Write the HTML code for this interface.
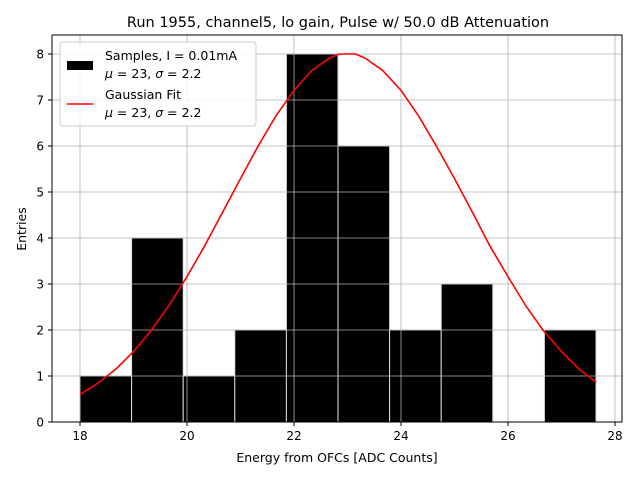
<!DOCTYPE html>
<html><head><meta charset="utf-8"><style>
body{margin:0;background:#fff;}
svg text{font-family:"DejaVu Sans","Liberation Sans",sans-serif;fill:#000;}
</style></head><body>
<svg id="chart" width="640" height="480">
<rect width="640" height="480" fill="#fff"/>
<text x="338" y="27" font-size="14.5" text-anchor="middle">Run 1955, channel5, lo gain, Pulse w/ 50.0 dB Attenuation</text>
<g id="bars"></g><g id="grid"></g><g id="fit"></g><g id="axes"></g>
<text x="337" y="462" font-size="12.5" text-anchor="middle">Energy from OFCs [ADC Counts]</text>
<text x="26" y="229" font-size="12.5" text-anchor="middle" transform="rotate(-90 26 229)">Entries</text>
<g>
<rect x="60" y="42" width="196" height="84" rx="3" fill="#fff" fill-opacity="0.85" stroke="#ccc"/>
<rect x="67" y="61" width="26" height="9" fill="#000"/>
<text x="105" y="60" font-size="12.5">Samples, I = 0.01mA</text>
<text x="105" y="78" font-size="12.5"><tspan font-style="italic">μ</tspan> = 23, <tspan font-style="italic">σ</tspan> = 2.2</text>
<line x1="67" y1="104" x2="93" y2="104" stroke="red" stroke-width="1.6"/>
<text x="105" y="99" font-size="12.5">Gaussian Fit</text>
<text x="105" y="117" font-size="12.5"><tspan font-style="italic">μ</tspan> = 23, <tspan font-style="italic">σ</tspan> = 2.2</text>
</g>
</svg>
<script>
const binStart = 18.0;
const binWidth = 0.9645;
const counts = [1,4,1,2,8,6,2,3,0,2];
const fitX = [18,18.33,18.67,19,19.33,19.66,20,20.33,20.66,21,21.33,21.66,22,22.33,22.66,22.85,23.15,23.33,23.66,24,24.33,24.66,25,25.33,25.66,26,26.33,26.66,27,27.33,27.65];
const fitY = [0.6,0.84,1.15,1.53,1.99,2.53,3.16,3.83,4.55,5.29,6.0,6.65,7.21,7.64,7.91,8.0,8.0,7.91,7.64,7.21,6.65,6.0,5.29,4.57,3.83,3.16,2.53,1.99,1.53,1.15,0.86];
const xTicks = [18,20,22,24,26,28];
const yTicks = [0,1,2,3,4,5,6,7,8];
const L=52,R=622,T=35,B=422;
const xs = v => 80 + (v-18)*53.5;
const ys = v => 422 - v*46;
const NS="http://www.w3.org/2000/svg";
function mk(parent,tag,attrs){const e=document.createElementNS(NS,tag);for(const k in attrs)e.setAttribute(k,attrs[k]);parent.appendChild(e);return e;}
const grid=document.getElementById('grid'),bars=document.getElementById('bars'),fit=document.getElementById('fit'),axes=document.getElementById('axes');
xTicks.forEach(t=>{
  const g=mk(grid,'line',{x1:xs(t),x2:xs(t),y1:T,y2:B,stroke:'#b0b0b0','stroke-width':0.8});
  
  
  const tk=mk(axes,'line',{x1:xs(t),x2:xs(t),y1:B,y2:B+4,stroke:'#000'});
  
  
  const tx=mk(axes,'text',{x:xs(t),y:B+18,'font-size':12,'text-anchor':'middle'});tx.textContent=t;
  
  
});
yTicks.forEach(t=>{
  const g=mk(grid,'line',{x1:L,x2:R,y1:ys(t),y2:ys(t),stroke:'#b0b0b0','stroke-width':0.8});
  
  
  const tk=mk(axes,'line',{x1:L-4,x2:L,y1:ys(t),y2:ys(t),stroke:'#000'});
  
  
  const tx=mk(axes,'text',{x:L-8,y:ys(t)+4.5,'font-size':12,'text-anchor':'end'});tx.textContent=t;
  
  
});
counts.forEach((c,i)=>{
  if(c<=0)return;
  const x0=xs(binStart+i*binWidth),x1=xs(binStart+(i+1)*binWidth);
  const r=mk(bars,'rect',{x:x0,y:ys(c),width:x1-x0,height:ys(0)-ys(c),fill:'#000',stroke:'#ddd','stroke-width':1});
  
  
});
const p=mk(fit,'polyline',{points:fitX.map((x,i)=>xs(x)+','+ys(fitY[i])).join(' '),fill:'none',stroke:'red','stroke-width':1.6});


const fr=mk(axes,'rect',{x:L,y:T,width:R-L,height:B-T,fill:'none',stroke:'#000','stroke-width':1});


</script>
</body></html>
